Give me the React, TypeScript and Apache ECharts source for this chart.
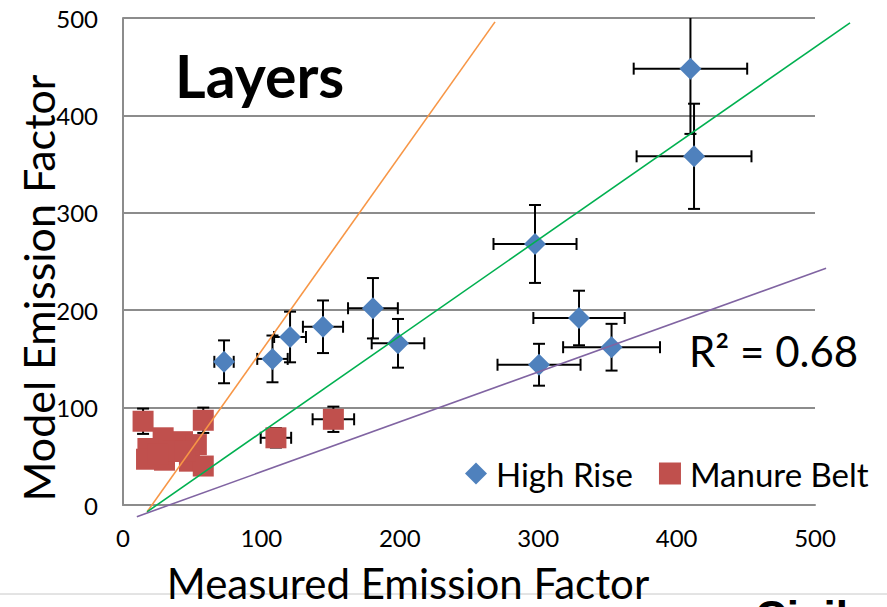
import React, { useEffect, useRef } from "react";
import * as echarts from "echarts";

// High Rise: measured vs model emission factor, with error half-widths
const highRiseX = [73, 108, 120.7, 144.5, 180.6, 198.7, 297.7, 329.5, 353, 300.6, 410, 412.6];
const highRiseY = [147, 150, 172.5, 183, 202, 166, 268, 192, 162, 144, 448, 358];
const highRiseXErr = [7, 11, 11.5, 14.5, 18, 19, 30, 33, 35, 30, 41, 41.5];
const highRiseYErr = [22, 24, 26, 27, 31, 25, 40, 28, 24, 21.5, 67, 54];

// Manure Belt
const manureX = [14.5, 58, 110.5, 152, 29, 18, 17, 30, 43, 53, 36, 48, 58, 25, 45];
const manureY = [86, 87, 69, 88, 69, 58, 47, 46, 65, 62, 55, 45, 40, 52, 55];
const manureXErr = [4, 4, 11, 15, 4, 3, 3, 4, 4, 4, 3, 4, 4, 3, 4];
const manureYErr = [13, 13, 10, 13, 9, 6, 6, 6, 7, 7, 6, 6, 6, 6, 6];

// Reference lines (2:1, 1:1, 1:2): [x1, y1, x2, y2]
const refLineNames = ["2:1", "1:1", "1:2"];
const refLineColors = ["#F79646", "#00B050", "#8064A2"];
const refLines = [
  [17.4, -7, 268.8, 496],
  [17.4, -7, 525.3, 495],
  [10, -12, 508, 243],
];

const xTicks = { min: 0, max: 500, interval: 100 };
const yTicks = { min: 0, max: 500, interval: 100 };

const FONT = "Lato";

function errorBarData(xs: number[], ys: number[], xe: number[], ye: number[]) {
  return xs.map((x, i) => [x, ys[i], xe[i], ye[i]]);
}

function renderErrorBar(_params: any, api: any) {
  const x = api.value(0);
  const y = api.value(1);
  const xe = api.value(2);
  const ye = api.value(3);
  const cap = 6;
  const style = { stroke: "#000", lineWidth: 2 };
  const children: any[] = [];
  if (ye > 0) {
    const top = api.coord([x, y + ye]);
    const bot = api.coord([x, y - ye]);
    children.push(
      { type: "line", shape: { x1: top[0], y1: top[1], x2: bot[0], y2: bot[1] }, style },
      { type: "line", shape: { x1: top[0] - cap, y1: top[1], x2: top[0] + cap, y2: top[1] }, style },
      { type: "line", shape: { x1: bot[0] - cap, y1: bot[1], x2: bot[0] + cap, y2: bot[1] }, style }
    );
  }
  if (xe > 0) {
    const l = api.coord([x - xe, y]);
    const r = api.coord([x + xe, y]);
    children.push(
      { type: "line", shape: { x1: l[0], y1: l[1], x2: r[0], y2: r[1] }, style },
      { type: "line", shape: { x1: l[0], y1: l[1] - cap, x2: l[0], y2: l[1] + cap }, style },
      { type: "line", shape: { x1: r[0], y1: r[1] - cap, x2: r[0], y2: r[1] + cap }, style }
    );
  }
  return { type: "group", children };
}

function renderRefLine(params: any, api: any) {
  const a = api.coord([api.value(0), api.value(1)]);
  const b = api.coord([api.value(2), api.value(3)]);
  return {
    type: "line",
    shape: { x1: a[0], y1: a[1], x2: b[0], y2: b[1] },
    style: { stroke: refLineColors[params.dataIndex], lineWidth: 1.6 },
  };
}

export default function App() {
  const ref = useRef<HTMLDivElement>(null);

  useEffect(() => {
    if (!ref.current) return;
    const chart = echarts.init(ref.current, null, { renderer: "svg" });
    const gridColor = "#8c8c8c";
    chart.setOption({
      animation: false,
      backgroundColor: "#fff",
      grid: { left: 123, top: 18, right: 72, bottom: 102, containLabel: false },
      xAxis: {
        type: "value",
        ...xTicks,
        axisLine: { show: true, lineStyle: { color: gridColor, width: 2 } },
        axisTick: { show: false },
        splitLine: { show: false },
        axisLabel: { color: "#000", fontFamily: FONT, fontSize: 24, margin: 20 },
      },
      yAxis: {
        type: "value",
        ...yTicks,
        axisLine: { show: true, lineStyle: { color: gridColor, width: 2 } },
        axisTick: { show: false },
        splitLine: { show: true, lineStyle: { color: gridColor, width: 2 } },
        axisLabel: { color: "#000", fontFamily: FONT, fontSize: 24, margin: 25 },
      },
      legend: {
        data: ["High Rise", "Manure Belt"],
        left: 460,
        top: 452,
        itemWidth: 22,
        itemHeight: 22,
        itemGap: 26,
        textStyle: { color: "#000", fontFamily: FONT, fontSize: 33, padding: [0, 0, 0, 4] },
      },
      series: [
        {
          type: "custom",
          name: "High Rise errors",
          renderItem: renderErrorBar,
          data: errorBarData(highRiseX, highRiseY, highRiseXErr, highRiseYErr),
          encode: { x: 0, y: 1 },
          clip: true,
          z: 1,
          silent: true,
        },
        {
          type: "custom",
          name: "Manure Belt errors",
          renderItem: renderErrorBar,
          data: errorBarData(manureX, manureY, manureXErr, manureYErr),
          encode: { x: 0, y: 1 },
          clip: true,
          z: 1,
          silent: true,
        },
        {
          type: "scatter",
          name: "Manure Belt",
          symbol: "rect",
          symbolSize: 21,
          itemStyle: { color: "#C0504D", opacity: 1 },
          data: manureX.map((x, i) => [x, manureY[i]]),
          z: 2,
        },
        {
          type: "scatter",
          name: "High Rise",
          symbol: "diamond",
          symbolSize: 22,
          itemStyle: { color: "#4F81BD", opacity: 1 },
          data: highRiseX.map((x, i) => [x, highRiseY[i]]),
          z: 3,
        },
        {
          type: "custom",
          name: "Reference lines",
          renderItem: renderRefLine,
          data: refLines.map((l, i) => ({ name: refLineNames[i], value: l })),
          encode: { x: 0, y: 1 },
          clip: false,
          z: 4,
          silent: true,
        },
      ],
      graphic: [
        {
          type: "line",
          z: 0,
          shape: { x1: 0, y1: 594, x2: 887, y2: 594 },
          style: { stroke: "#c8c8c8", lineWidth: 1 },
        },
        {
          type: "text",
          left: 175,
          top: 46,
          style: { text: "Layers", fontFamily: FONT, fontWeight: "bold", fontSize: 59, fill: "#000" },
        },
        {
          type: "text",
          left: 689,
          top: 330,
          style: { text: "R² = 0.68", fontFamily: FONT, fontSize: 42, fill: "#000" },
        },
        {
          type: "text",
          x: 408,
          y: 583,
          z: 10,
          style: {
            text: "Measured Emission Factor",
            fontFamily: FONT,
            fontSize: 42,
            lineHeight: 42,
            fill: "#000",
            align: "center",
            verticalAlign: "middle",
          },
        },
        {
          type: "text",
          x: 38,
          y: 288,
          rotation: Math.PI / 2,
          style: {
            text: "Model Emission Factor",
            fontFamily: FONT,
            fontSize: 43,
            fill: "#000",
            align: "center",
            verticalAlign: "middle",
          },
        },
        {
          type: "text",
          x: 755,
          y: 594,
          style: {
            text: "Civil",
            fontFamily: "Liberation Sans",
            fontWeight: "bold",
            fontSize: 44,
            fill: "#000",
            verticalAlign: "top",
          },
        },
      ],
    });
    return () => chart.dispose();
  }, []);

  return (
    <div
      ref={ref}
      style={{ position: "fixed", left: 0, top: 0, width: 887, height: 607, background: "#fff" }}
    />
  );
}
